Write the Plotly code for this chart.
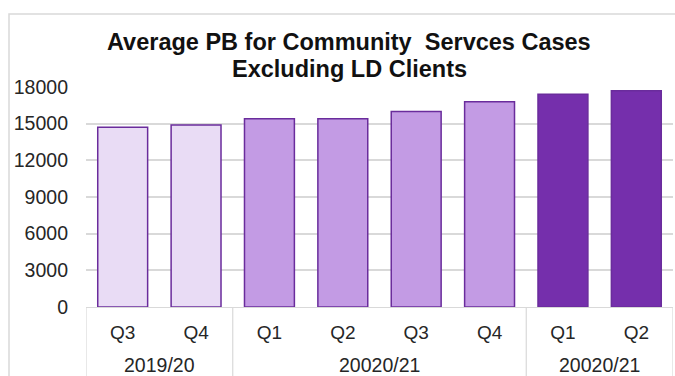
import plotly.graph_objects as go

quarters = ["Q3", "Q4", "Q1", "Q2", "Q3", "Q4", "Q1", "Q2"]
years = ["2019/20", "20020/21", "20020/21"]
year_spans = [(0, 1), (2, 5), (6, 7)]
values = [14700, 14900, 15400, 15400, 16000, 16800, 17400, 17700]
colors = ["#E9DCF5", "#E9DCF5", "#C39BE4", "#C39BE4", "#C39BE4", "#C39BE4", "#752FAC", "#752FAC"]
y_ticks = [0, 3000, 6000, 9000, 12000, 15000, 18000]
title_lines = ["Average PB for Community\u00a0 Servces Cases", "Excluding LD Clients"]

xs = list(range(len(values)))
grid = "#D9D9D9"
font_fam = "Liberation Sans, Arial, sans-serif"

# plot-area geometry in pixels
L, R, T, B = 86, 673, 87, 307
PW, PH = R - L, B - T

fig = go.Figure()
fig.add_trace(go.Bar(
    x=xs, y=values, width=0.68,
    marker=dict(color=colors, line=dict(color="#6A2C9C", width=1.5)),
    hoverinfo="skip",
))

fig.update_layout(
    width=675, height=376,
    margin=dict(l=L, r=675 - R, t=T, b=376 - B),
    paper_bgcolor="white", plot_bgcolor="white",
    showlegend=False,
    font=dict(family=font_fam, color="#262626"),
    xaxis=dict(
        range=[-0.5, 7.5], tickvals=xs, ticktext=quarters,
        showgrid=False, zeroline=False, showline=True, linecolor=grid, linewidth=1,
        ticks="", tickfont=dict(size=19, color="#262626"),
        ticklabelstandoff=8,
    ),
    yaxis=dict(
        range=[0, 18000], tickvals=y_ticks, ticktext=[str(v) for v in y_ticks],
        showgrid=True, gridcolor=grid, gridwidth=1.5,
        zeroline=False, showline=False, ticks="", tickfont=dict(size=19.5, color="#262626"),
        ticklabelstandoff=17,
    ),
    bargap=0.32,
)

for line, yc in zip(title_lines, [42, 68.5]):
    fig.add_annotation(
        x=(349 - L) / PW, y=(B - yc) / PH, xref="paper", yref="paper",
        text="<b>" + line + "</b>", showarrow=False, xanchor="center", yanchor="middle",
        font=dict(size=23.5, color="#111111", family=font_fam),
    )

for i, (a, b) in enumerate(year_spans):
    fig.add_annotation(
        x=(a + b) / 2, y=-(365 - B) / PH, xref="x", yref="paper",
        text=years[i], showarrow=False, yanchor="middle",
        font=dict(size=19.5, color="#262626", family=font_fam),
    )

bottom = -(376 - B) / PH
bounds = [-0.5] + [b + 0.5 for (a, b) in year_spans]
for bx in bounds:
    fig.add_shape(type="line", xref="x", yref="paper", x0=bx, x1=bx, y0=0, y1=bottom,
                  line=dict(color=grid, width=1.2))

fig.add_shape(type="rect", xref="paper", yref="paper",
              x0=(9 - L) / PW, x1=1.2, y0=(B - 14) / PH, y1=-0.5,
              line=dict(color="#D9D9D9", width=1.5), layer="below")

fig.write_html("out.html")
